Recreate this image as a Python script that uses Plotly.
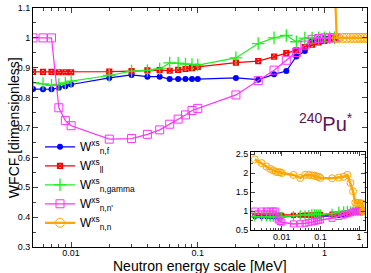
import plotly.graph_objects as go

# ---- data ----
E = [0.002, 0.003, 0.004, 0.005, 0.006, 0.007, 0.008, 0.009,
     0.01, 0.02, 0.03, 0.04, 0.05, 0.06, 0.07, 0.08, 0.09,
     0.1, 0.2, 0.3, 0.4, 0.5, 0.6, 0.7, 0.8, 0.9, 1.0, 1.1, 1.2]

W_nf = [0.830, 0.830, 0.829, 0.829, 0.828, 0.828, 0.833, 0.838,
        0.844, 0.866, 0.876, 0.870, 0.870, 0.862, 0.862, 0.862, 0.862,
        0.862, 0.866, 0.860, 0.878, 0.889, 0.938, 0.956, 0.990, 0.996, 0.999, 1.0, 1.0]

W_el = [0.886, 0.886, 0.886, 0.886, 0.886, 0.886, 0.885, 0.885,
        0.885, 0.887, 0.889, 0.891, 0.892, 0.890, 0.893, 0.896, 0.899,
        0.903, 0.917, 0.922, 0.937, 0.949, 0.958, 0.969, 0.977, 0.985, 0.990, 0.995, 1.0]

W_ng = [0.851, 0.851, 0.851, 0.850, 0.846, 0.841, 0.844, 0.849,
        0.855, 0.874, 0.889, 0.891, 0.896, 0.916, 0.915, 0.912, 0.911,
        0.909, 0.933, 0.981, 1.000, 1.008, 0.987, 0.999, 0.999, 1.0, 1.0, 1.0, 1.0]

W_nnp = [1.0, 1.0, 1.0, 1.0, 1.0, 1.0, 0.766, 0.723,
         0.706, 0.661, 0.663, 0.677, 0.692, 0.711, 0.728, 0.742, 0.757,
         0.764, 0.809, 0.857, 0.892, 0.925, 0.951, 0.976, 0.995, 0.998, 1.0, 1.0, 1.0]

E_nn = E + [1.25, 1.3, 1.4, 1.5, 1.6, 1.7, 1.8, 1.9, 2.0, 2.1, 2.2]
W_nn = [2.36, 2.26, 2.17, 2.11, 2.07, 2.03, 2.02, 2.02,
        2.00, 1.95, 1.87, 1.95, 1.95, 1.94, 1.93, 1.91, 1.90,
        1.87, 1.86, 1.88, 1.90, 1.95, 1.74, 1.52, 1.22, 1.21, 1.21, 1.20, 1.20,
        1.0, 1.0, 1.0, 1.0, 1.0, 1.0, 1.0, 1.0, 1.0, 1.0, 1.0]

names = ["W<sup>xs</sup><sub>n,f</sub>", "W<sup>xs</sup><sub>ll</sub>",
         "W<sup>xs</sup><sub>n,gamma</sub>", "W<sup>xs</sup><sub>n,n'</sub>",
         "W<sup>xs</sup><sub>n,n</sub>"]

major_x = [0.01, 0.1, 1]
major_x_text = ["0.01", "0.1", "1"]
minor_x = [m * d for d in [0.001, 0.01, 0.1, 1] for m in range(2, 10)]

# ---- styles ----
series = [
    (E, W_nf, "#0000ff", dict(symbol="circle", size=6), 1.2),
    (E, W_el, "#ff0000", dict(symbol="square-x-open", size=5, line=dict(width=1.2)), 1.2),
    (E, W_ng, "#22ee22", dict(symbol="cross-thin-open", size=9, line=dict(width=1.3)), 1.2),
    (E, W_nnp, "#ff33ff", dict(symbol="square-open", size=8, line=dict(width=1)), 1.2),
    (E_nn, W_nn, "#ffa500", dict(symbol="circle-open", size=9, line=dict(width=1)), 2.2),
]

fig = go.Figure()
for (x, y, c, mk, lw), nm in zip(series, names):
    m = dict(mk)
    m["color"] = c
    fig.add_trace(go.Scatter(x=x, y=y, mode="lines+markers", name=nm,
                             line=dict(color=c, width=lw), marker=m,
                             xaxis="x", yaxis="y"))
for (x, y, c, mk, lw), nm in zip(series, names):
    m = dict(mk)
    m["color"] = c
    m["size"] = max(4, mk["size"] - 2)
    fig.add_trace(go.Scatter(x=x, y=y, mode="lines+markers", name=nm,
                             line=dict(color=c, width=lw + 0.3), marker=m,
                             xaxis="x2", yaxis="y2", showlegend=False))

axis_common = dict(showline=True, linecolor="black", linewidth=1, mirror="ticks",
                   ticks="inside", showgrid=False, zeroline=False,
                   tickfont=dict(size=9, color="black", family="Liberation Sans"))

fig.update_layout(
    width=371, height=273,
    margin=dict(l=33, r=3, t=4, b=26),
    paper_bgcolor="white", plot_bgcolor="white",
    font=dict(family="Liberation Sans", color="black"),
    xaxis=dict(type="log", range=[-2.301, 0.336], tickvals=major_x, ticktext=major_x_text,
               ticklen=5, minor=dict(tickvals=minor_x, ticks="inside", ticklen=3),
               ticklabelstandoff=-3, domain=[0, 1], **axis_common),
    yaxis=dict(range=[0.3, 1.1], dtick=0.1, tick0=0.3, ticklen=5,
               minor=dict(dtick=0.05, ticks="inside", ticklen=3),
               domain=[0, 1], **axis_common),
    xaxis2=dict(type="log", range=[-2.795, 0.146], tickvals=major_x, ticktext=major_x_text,
                ticklen=4, minor=dict(tickvals=minor_x, ticks="inside", ticklen=2),
                ticklabelstandoff=-2, domain=[0.653, 0.993], anchor="y2", **axis_common),
    yaxis2=dict(range=[0.5, 2.55], dtick=0.5, tick0=0.5, ticklen=4,
                minor=dict(dtick=0.25, ticks="inside", ticklen=2),
                domain=[0.071, 0.397], anchor="x2", **axis_common),
    legend=dict(x=0.021, y=0.48, xanchor="left", yanchor="top",
                bgcolor="rgba(0,0,0,0)", font=dict(size=12, color="black"),
                itemwidth=30, tracegroupgap=0),
    showlegend=True,
    annotations=[
        dict(text="<sup>240</sup>Pu<sup>*</sup>", x=0.791, y=0.523,
             xref="paper", yref="paper", showarrow=False,
             xanchor="left", yanchor="middle",
             font=dict(size=20, color="#5c1452", family="Liberation Sans")),
        dict(text="Neutron energy scale [MeV]", x=0.5, y=-0.08,
             xref="paper", yref="paper", showarrow=False,
             xanchor="center", yanchor="middle",
             font=dict(size=14, color="black", family="Liberation Sans")),
        dict(text="WFCF [dimensionless]", x=-0.058, y=0.5, textangle=-90,
             xref="paper", yref="paper", showarrow=False,
             xanchor="center", yanchor="middle",
             font=dict(size=14, color="black", family="Liberation Sans")),
    ],
)

fig.write_html("out.html", config={"displayModeBar": False},
               post_script="document.body.style.margin='0';")
